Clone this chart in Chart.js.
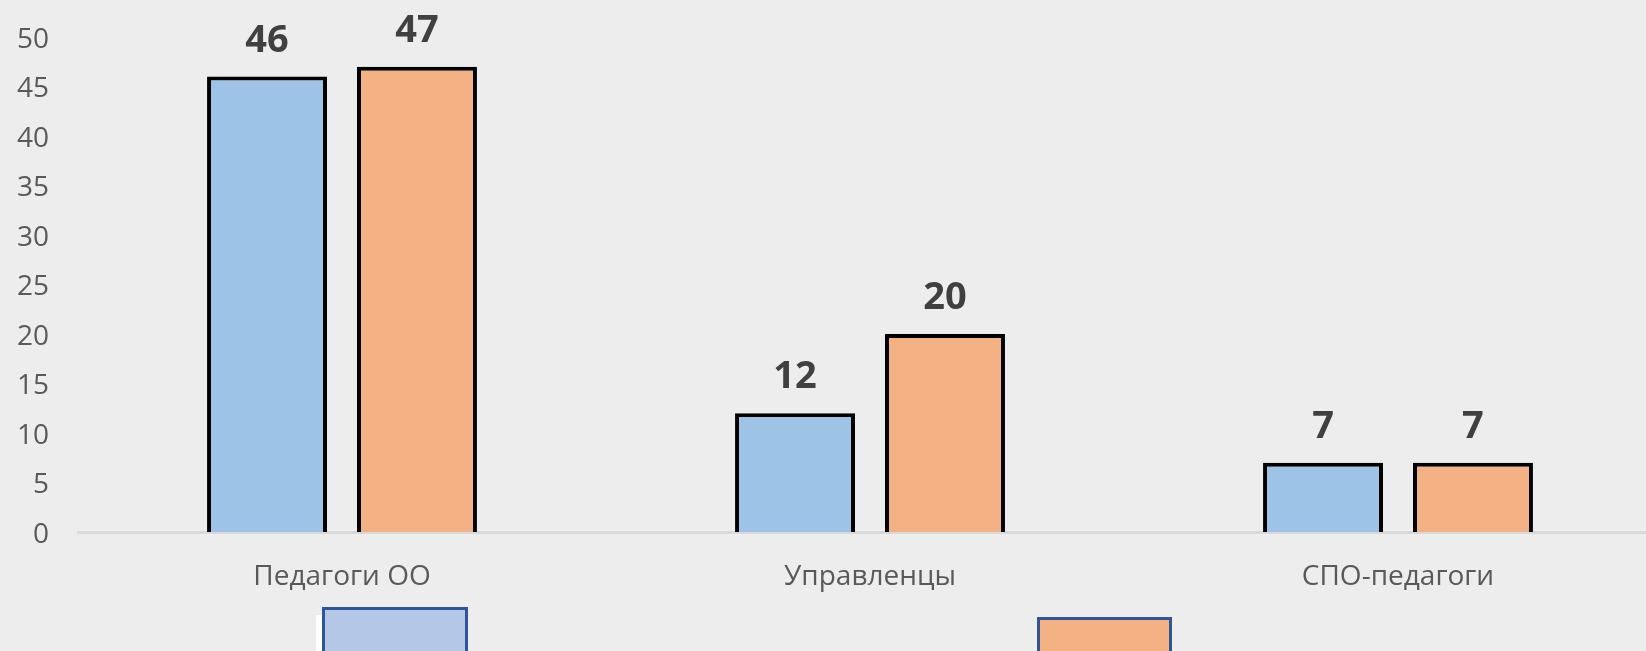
<!DOCTYPE html>
<html>
<head>
<meta charset="utf-8">
<script src="https://cdn.jsdelivr.net/npm/chart.js@4/dist/chart.umd.min.js"></script>
<style>
	html, body { margin: 0; padding: 0; overflow: hidden; background: #ededed; }
	#wrap { position: absolute; left: 0; top: 0; width: 1700px; height: 651px; }
	.box { position: absolute; box-sizing: border-box; border: 3px solid #2f5597; }
</style>
</head>
<body>
<div id="wrap"><canvas id="graph" width="1700" height="651"></canvas></div>
<div class="box" style="left:316px; top:615px; width:150px; height:60px; background:#ffffff; border:none;"></div>
<div class="box" style="left:322px; top:607px; width:146px; height:60px; background:#b4c7e7;"></div>
<div class="box" style="left:1037px; top:617px; width:135px; height:60px; background:#f4b183;"></div>
<script>
var categories = ["Педагоги ОО", "Управленцы", "СПО-педагоги"];
var seriesBlue = [46, 12, 7];
var seriesOrange = [47, 20, 7];
var yTicks = [0, 5, 10, 15, 20, 25, 30, 35, 40, 45, 50];

// value labels above each bar
var barLabels = {
	id: 'barLabels',
	afterDatasetsDraw: function(chart) {
		var ctx = chart.ctx;
		ctx.save();
		ctx.font = "bold 38px 'Open Sans'";
		ctx.fillStyle = "#404040";
		ctx.textAlign = "center";
		ctx.textBaseline = "alphabetic";
		chart.data.datasets.forEach(function(ds, i) {
			chart.getDatasetMeta(i).data.forEach(function(bar, j) {
				ctx.fillText(ds.data[j], bar.x, bar.y - 25);
			});
		});
		ctx.restore();
	}
};

var ctx = document.getElementById("graph").getContext("2d");
var myChart = new Chart(ctx, {
	type : 'bar',
	data : {
		labels : categories,
		datasets : [
			{
				label : "blue",
				data : seriesBlue,
				backgroundColor : "#9dc3e6",
				borderColor : "#000000",
				borderWidth : 4,
				categoryPercentage : 0.568,
				barPercentage : 0.8
			},
			{
				label : "orange",
				data : seriesOrange,
				backgroundColor : "#f4b183",
				borderColor : "#000000",
				borderWidth : 4,
				categoryPercentage : 0.568,
				barPercentage : 0.8
			}
		]
	},
	options : {
		responsive : false,
		animation : false,
		layout : { padding : { top : 37, right : 38, left : 0, bottom : 0 } },
		plugins : {
			legend : { display : false },
			tooltip : { enabled : false }
		},
		scales : {
			x : {
				grid : { display : false },
				border : { display : true, color : "#d9d9d9", width : 3 },
				ticks : {
					color : "#595959",
					font : { family : "'Open Sans'", size : 28 },
					padding : 20
				},
				afterFit : function(scale) { scale.height = 119; }
			},
			y : {
				min : 0,
				max : 50,
				grid : { display : false },
				border : { display : false },
				afterBuildTicks : function(scale) {
					scale.ticks = yTicks.map(function(v) { return { value : v }; });
				},
				ticks : {
					color : "#595959",
					font : { family : "'Open Sans'", size : 28 },
					padding : 21,
					labelOffset : 3
				},
				afterFit : function(scale) {
					scale.width = 78;
					scale.paddingTop = 0;
					scale.paddingBottom = 0;
				}
			}
		}
	},
	plugins : [barLabels]
});
</script>
</body>
</html>
